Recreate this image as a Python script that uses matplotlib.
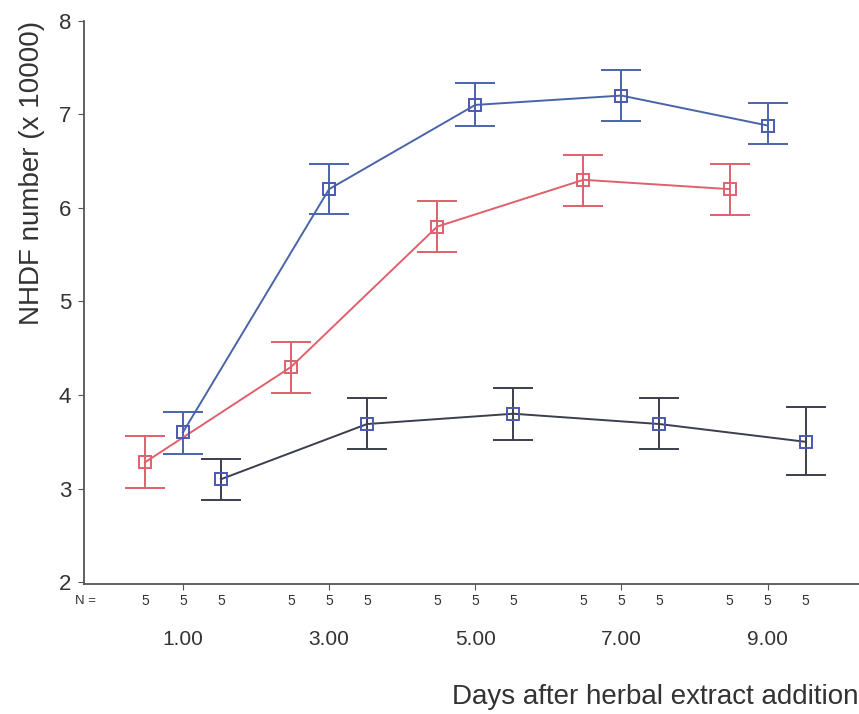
import matplotlib
matplotlib.use("Agg")
import matplotlib.pyplot as plt
import matplotlib.transforms as mtransforms
import numpy as np

plt.rcParams['font.family'] = ['Liberation Sans', 'DejaVu Sans']

days = [1, 3, 5, 7, 9]
day_labels = ["1.00", "3.00", "5.00", "7.00", "9.00"]
n_counts = [5, 5, 5]

# series: mean and error bar ends (x 10000)
red_mean = [3.28, 4.30, 5.80, 6.30, 6.20]
red_lo = [3.01, 4.02, 5.53, 6.02, 5.92]
red_hi = [3.56, 4.57, 6.07, 6.57, 6.47]

blue_mean = [3.60, 6.20, 7.10, 7.20, 6.88]
blue_lo = [3.37, 5.93, 6.87, 6.93, 6.68]
blue_hi = [3.82, 6.47, 7.33, 7.47, 7.12]

dark_mean = [3.10, 3.69, 3.80, 3.69, 3.50]
dark_lo = [2.88, 3.42, 3.52, 3.42, 3.15]
dark_hi = [3.32, 3.97, 4.08, 3.97, 3.87]

offset = 0.52
red_c = "#e0606c"
blue_c = "#4a64aa"
dark_c = "#3b3e4c"
marker_c = "#4a58b0"

fig = plt.figure(figsize=(8.59, 7.14), dpi=100)
ax = fig.add_axes([0.098, 0.182, 0.902, 0.789])

series = [
    (-offset, red_mean, red_lo, red_hi, red_c, red_c),
    (0.0, blue_mean, blue_lo, blue_hi, blue_c, marker_c),
    (offset, dark_mean, dark_lo, dark_hi, dark_c, marker_c),
]
for off, m, lo, hi, col, mcol in series:
    x = np.array(days) + off
    m = np.array(m)
    err = [m - np.array(lo), np.array(hi) - m]
    ax.errorbar(x, m, yerr=err, fmt='none', ecolor=col, elinewidth=1.4,
                capsize=14.5, capthick=1.4, zorder=2)
    ax.plot(x, m, color=col, lw=1.4, zorder=3)
    ax.plot(x, m, ls='none', marker='s', ms=9, mfc='none', mec=mcol,
            mew=1.4, zorder=4)

ax.set_xlim(-0.35, 10.25)
ax.set_ylim(1.98, 8)
ax.set_yticks([2, 3, 4, 5, 6, 7, 8])
ax.set_xticks(days)
ax.set_xticklabels(day_labels)
for s in ['top', 'right']:
    ax.spines[s].set_visible(False)
for s in ['left', 'bottom']:
    ax.spines[s].set_color("#555555")
    ax.spines[s].set_linewidth(1.3)
ax.tick_params(axis='y', labelsize=16, length=4.5, color="#555555",
               labelcolor="#333333", pad=5)
ax.tick_params(axis='x', labelsize=15, length=4, color="#555555",
               labelcolor="#333333", pad=29)

trans = mtransforms.blended_transform_factory(ax.transData, ax.transAxes)
for d in days:
    for k, off in enumerate([-offset, 0.0, offset]):
        ax.text(d + off, -0.03, str(n_counts[k]), transform=trans,
                ha='center', va='center', fontsize=10, color="#333333")
ax.text(-0.33, -0.03, "N =", transform=trans, ha='center', va='center',
        fontsize=9.5, color="#333333")

ax.set_ylabel("NHDF number (x 10000)", fontsize=20, color="#333333",
              loc='top', labelpad=10)
fig.text(0.999, 0.024, "Days after herbal extract addition", ha='right',
         va='center', fontsize=20, color="#333333")

fig.savefig("out.png", dpi=100)
